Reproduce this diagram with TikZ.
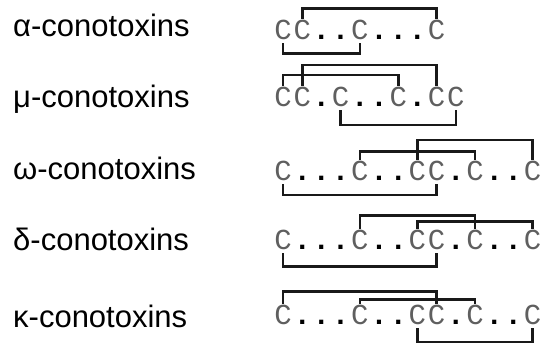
\documentclass[tikz,border=0pt]{standalone}
\usepackage{fontspec}
\setmainfont{Liberation Sans}
\newfontfamily\seqfont{Liberation Mono}
\definecolor{cgray}{RGB}{95,95,95}
\definecolor{bondcol}{RGB}{25,25,25}
\begin{document}
\begin{tikzpicture}[x=1pt,y=-1pt,
  lab/.style={anchor=base west,inner sep=0pt,font=\fontsize{31}{34}\selectfont},
  res/.style={anchor=base,inner sep=0pt,text height=21pt,text depth=3pt,font=\seqfont\fontsize{29}{32}\selectfont},
  resC/.style={res,text=cgray,node contents={C}},
  resd/.style={res,text=black,node contents={\textbf{.}}},
  bond/.style={draw=bondcol,line width=2.6pt}]
\useasboundingbox (0,0) rectangle (544,344);
% labels
\node[lab] (la) at (13,37) {α-conotoxins};
\node[lab] (lm) at (13,108) {μ-conotoxins};
\node[lab] (lw) at (13,180) {ω-conotoxins};
\node[lab] (ld) at (13,251) {δ-conotoxins};
\node[lab] (lk) at (13,328) {κ-conotoxins};
% sequences
\foreach \c [count=\i from 0] in {C,C,d,d,C,d,d,d,C}
  \node (a\i) at ({283+19.2*\i},40) [res\c];
\foreach \c [count=\i from 0] in {C,C,d,C,d,d,C,d,C,C}
  \node (m\i) at ({283+19.2*\i},107) [res\c];
\foreach \c [count=\i from 0] in {C,d,d,d,C,d,d,C,C,d,C,d,d,C}
  \node (w\i) at ({283+19.2*\i},181) [res\c];
\foreach \c [count=\i from 0] in {C,d,d,d,C,d,d,C,C,d,C,d,d,C}
  \node (d\i) at ({283+19.2*\i},250) [res\c];
\foreach \c [count=\i from 0] in {C,d,d,d,C,d,d,C,C,d,C,d,d,C}
  \node (k\i) at ({283+19.2*\i},325) [res\c];
% alpha
\draw[bond] (a1.north) -- (a1.north |- 0,8.3) -| (a8.north);
\draw[bond] (a0.south) -- (a0.south |- 0,53.3) -| (a4.south);
% mu
\draw[bond] (m0.north) -- (m0.north |- 0,75) -| (m6.north);
\draw[bond] (m1.north) -- (m1.north |- 0,65) -| (m8.north);
\draw[bond] (m3.south) -- (m3.south |- 0,125) -| (m9.south);
% omega
\draw[bond] (w4.north) -- (w4.north |- 0,151.7) -| (w10.north);
\draw[bond] (w7.north) -- (w7.north |- 0,140) -| (w13.north);
\draw[bond] (w0.south) -- (w0.south |- 0,195) -| (w8.south);
% delta
\draw[bond] (d4.north) -- (d4.north |- 0,215.7) -| (d10.north);
\draw[bond] (d7.north) -- (d7.north |- 0,221.7) -| (d13.north);
\draw[bond] (d0.south) -- (d0.south |- 0,266.7) -| (d8.south);
% kappa
\draw[bond] (k0.north) -- (k0.north |- 0,291.7) -| (k8.north);
\draw[bond] (k4.north) -- (k4.north |- 0,299.3) -| (k10.north);
\draw[bond] (k7.south) -- (k7.south |- 0,342) -| (k13.south);
\end{tikzpicture}
\end{document}
